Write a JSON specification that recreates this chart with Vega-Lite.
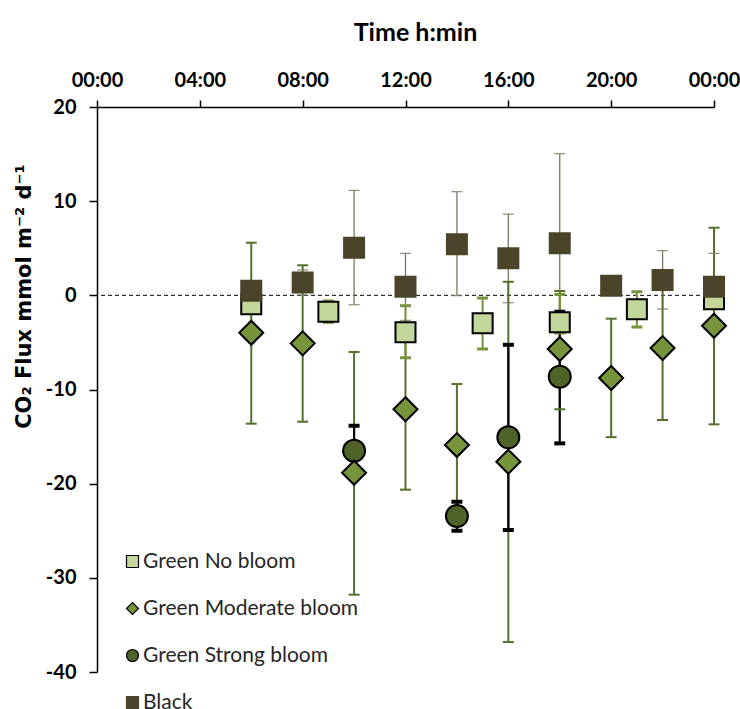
{
  "$schema": "https://vega.github.io/schema/vega-lite/v6.json",
  "width": 617,
  "height": 565,
  "autosize": {"type": "none"},
  "padding": {"left": 97, "top": 107, "right": 26, "bottom": 37},
  "background": "white",
  "config": {
    "view": {"stroke": null},
    "axis": {"grid": false},
    "legend": {"orient": "none", "legendX": 25, "legendY": 444, "padding": 0, "rowPadding": 25, "symbolSize": 144, "symbolStrokeWidth": 1.2, "labelFont": "Lato", "labelFontSize": 21, "labelColor": "#262626", "labelOffset": 0, "labelLimit": 400}
  },
  "data": {"values": [
    {"series": "Black", "t": 6, "v": 0.5},
    {"series": "Black", "t": 8, "v": 1.36, "lo": 0.03, "hi": 2.69},
    {"series": "Black", "t": 10, "v": 5.05, "lo": -1.0, "hi": 11.15},
    {"series": "Black", "t": 12, "v": 0.91, "lo": -2.65, "hi": 4.46},
    {"series": "Black", "t": 14, "v": 5.42, "lo": -0.04, "hi": 11.0},
    {"series": "Black", "t": 16, "v": 3.93, "lo": -0.79, "hi": 8.63},
    {"series": "Black", "t": 18, "v": 5.52, "lo": -4.0, "hi": 15.04},
    {"series": "Black", "t": 20, "v": 1.02},
    {"series": "Black", "t": 22, "v": 1.62, "lo": -1.45, "hi": 4.74},
    {"series": "Black", "t": 24, "v": 0.91, "lo": -2.64, "hi": 4.46},
    {"series": "Green No bloom", "t": 6, "v": -0.96},
    {"series": "Green No bloom", "t": 9, "v": -1.74, "lo": -2.87, "hi": -0.6},
    {"series": "Green No bloom", "t": 12, "v": -3.93, "lo": -6.63, "hi": -1.1},
    {"series": "Green No bloom", "t": 15, "v": -2.97, "lo": -5.7, "hi": -0.29},
    {"series": "Green No bloom", "t": 18, "v": -2.87, "lo": -4.0, "hi": 0.1},
    {"series": "Green No bloom", "t": 21, "v": -1.49, "lo": -3.37, "hi": 0.38},
    {"series": "Green No bloom", "t": 24, "v": -0.42},
    {"series": "Green Moderate bloom", "t": 6, "v": -3.97, "lo": -13.63, "hi": 5.59},
    {"series": "Green Moderate bloom", "t": 8, "v": -5.1, "lo": -13.42, "hi": 3.19},
    {"series": "Green Moderate bloom", "t": 10, "v": -18.84, "lo": -31.79, "hi": -6.02},
    {"series": "Green Moderate bloom", "t": 12, "v": -12.1, "lo": -20.64, "hi": -3.56},
    {"series": "Green Moderate bloom", "t": 14, "v": -15.9, "lo": -22.38, "hi": -9.42},
    {"series": "Green Moderate bloom", "t": 16, "v": -17.67, "lo": -36.82, "hi": 1.44},
    {"series": "Green Moderate bloom", "t": 18, "v": -5.7, "lo": -12.1, "hi": 0.46},
    {"series": "Green Moderate bloom", "t": 20, "v": -8.78, "lo": -15.06, "hi": -2.48},
    {"series": "Green Moderate bloom", "t": 22, "v": -5.6, "lo": -13.24, "hi": 2.04},
    {"series": "Green Moderate bloom", "t": 24, "v": -3.23, "lo": -13.7, "hi": 7.18},
    {"series": "Green Strong bloom", "t": 10, "v": -16.5, "lo": -19.15, "hi": -13.85},
    {"series": "Green Strong bloom", "t": 14, "v": -23.44, "lo": -25.0, "hi": -21.92},
    {"series": "Green Strong bloom", "t": 16, "v": -15.08, "lo": -24.92, "hi": -5.25},
    {"series": "Green Strong bloom", "t": 18, "v": -8.64, "lo": -15.72, "hi": -1.74}
  ]},
  "layer": [
    {
      "data": {"values": [{}]},
      "mark": {"type": "rule", "color": "black", "strokeWidth": 1, "strokeDash": [4, 3]},
      "encoding": {"y": {"datum": 0, "type": "quantitative", "title": "CO₂ Flux mmol m⁻² d⁻¹", "scale": {"domain": [-40, 20], "nice": false}}}
    },
    {
      "mark": {"type": "rule"},
      "encoding": {
        "x": {"field": "t", "type": "quantitative", "title": "Time h:min", "scale": {"domain": [0, 24], "nice": false, "zero": false}},
        "y": {"field": "lo", "type": "quantitative", "title": "CO₂ Flux mmol m⁻² d⁻¹", "scale": {"domain": [-40, 20], "nice": false}},
        "y2": {"field": "hi"},
        "color": {"field": "series", "type": "nominal", "scale": {"domain": ["Black", "Green Moderate bloom", "Green No bloom", "Green Strong bloom"], "range": ["#7a765e", "#566f2c", "#77933c", "#000000"]}, "legend": null},
        "strokeWidth": {"field": "series", "type": "nominal", "scale": {"type": "ordinal", "domain": ["Black", "Green Moderate bloom", "Green No bloom", "Green Strong bloom"], "range": [1.3, 2, 2, 2.2]}, "legend": null},
        "order": {"field": "series", "type": "ordinal", "sort": "ascending"}
      }
    },
    {
      "mark": {"type": "rule", "xOffset": -5.5, "x2Offset": 5.5},
      "encoding": {
        "x": {"field": "t", "type": "quantitative", "title": "Time h:min"},
        "x2": {"field": "t"},
        "y": {"field": "lo", "type": "quantitative", "title": "CO₂ Flux mmol m⁻² d⁻¹"},
        "color": {"field": "series", "type": "nominal", "legend": null},
        "strokeWidth": {"field": "series", "type": "nominal", "legend": null}
      }
    },
    {
      "mark": {"type": "rule", "xOffset": -5.5, "x2Offset": 5.5},
      "encoding": {
        "x": {"field": "t", "type": "quantitative", "title": "Time h:min"},
        "x2": {"field": "t"},
        "y": {"field": "hi", "type": "quantitative", "title": "CO₂ Flux mmol m⁻² d⁻¹"},
        "color": {"field": "series", "type": "nominal", "legend": null},
        "strokeWidth": {"field": "series", "type": "nominal", "legend": null}
      }
    },
    {
      "mark": {"type": "point", "filled": true, "strokeWidth": 2, "opacity": 1},
      "encoding": {
        "x": {
          "field": "t", "type": "quantitative", "title": "Time h:min",
          "axis": {
            "orient": "top", "values": [0, 4, 8, 12, 16, 20, 24], "labelFlush": false,
            "labelExpr": "(datum.value % 24 < 10 ? '0' : '') + (datum.value % 24) + ':00'",
            "labelFont": "Lato", "labelFontSize": 20, "labelFontWeight": "bold", "labelColor": "black", "labelPadding": 10,
            "tickSize": 7, "tickColor": "black", "tickWidth": 1.5,
            "domainColor": "black", "domainWidth": 1.5,
            "titleFont": "Lato", "titleFontSize": 25, "titleFontWeight": "bold", "titleColor": "black",
            "titleX": 318, "titleY": -75, "titleAlign": "center", "titleBaseline": "middle"
          }
        },
        "y": {
          "field": "v", "type": "quantitative", "title": "CO₂ Flux mmol m⁻² d⁻¹",
          "scale": {"domain": [-40, 20], "nice": false},
          "axis": {
            "values": [-40, -30, -20, -10, 0, 10, 20],
            "labelExpr": "replace(datum.label, '−', '-')",
            "labelFont": "Lato", "labelFontSize": 20, "labelFontWeight": "bold", "labelColor": "black", "labelPadding": 13,
            "tickSize": 8, "tickColor": "black", "tickWidth": 1.5,
            "domainColor": "black", "domainWidth": 1.5,
            "titleFont": "DejaVu Sans", "titleFontSize": 21, "titleFontWeight": "bold", "titleColor": "black",
            "titleX": -73, "titleY": 189, "titleAlign": "center", "titleBaseline": "middle", "titleAngle": -90
          }
        },
        "shape": {"field": "series", "type": "nominal", "title": null, "scale": {"domain": ["Green No bloom", "Green Moderate bloom", "Green Strong bloom", "Black"], "range": ["square", "diamond", "circle", "square"]}},
        "fill": {"field": "series", "type": "nominal", "title": null, "scale": {"domain": ["Green No bloom", "Green Moderate bloom", "Green Strong bloom", "Black"], "range": ["#c3d69b", "#77933c", "#4f6228", "#4a452a"]}},
        "stroke": {"field": "series", "type": "nominal", "title": null, "scale": {"domain": ["Green No bloom", "Green Moderate bloom", "Green Strong bloom", "Black"], "range": ["#000000", "#000000", "#000000", "#4a452a"]}},
        "size": {"field": "series", "type": "nominal", "scale": {"type": "ordinal", "domain": ["Black", "Green Moderate bloom", "Green No bloom", "Green Strong bloom"], "range": [400, 576, 400, 484]}, "legend": null},
        "order": {"field": "series", "type": "ordinal", "sort": "descending"}
      }
    }
  ]
}
